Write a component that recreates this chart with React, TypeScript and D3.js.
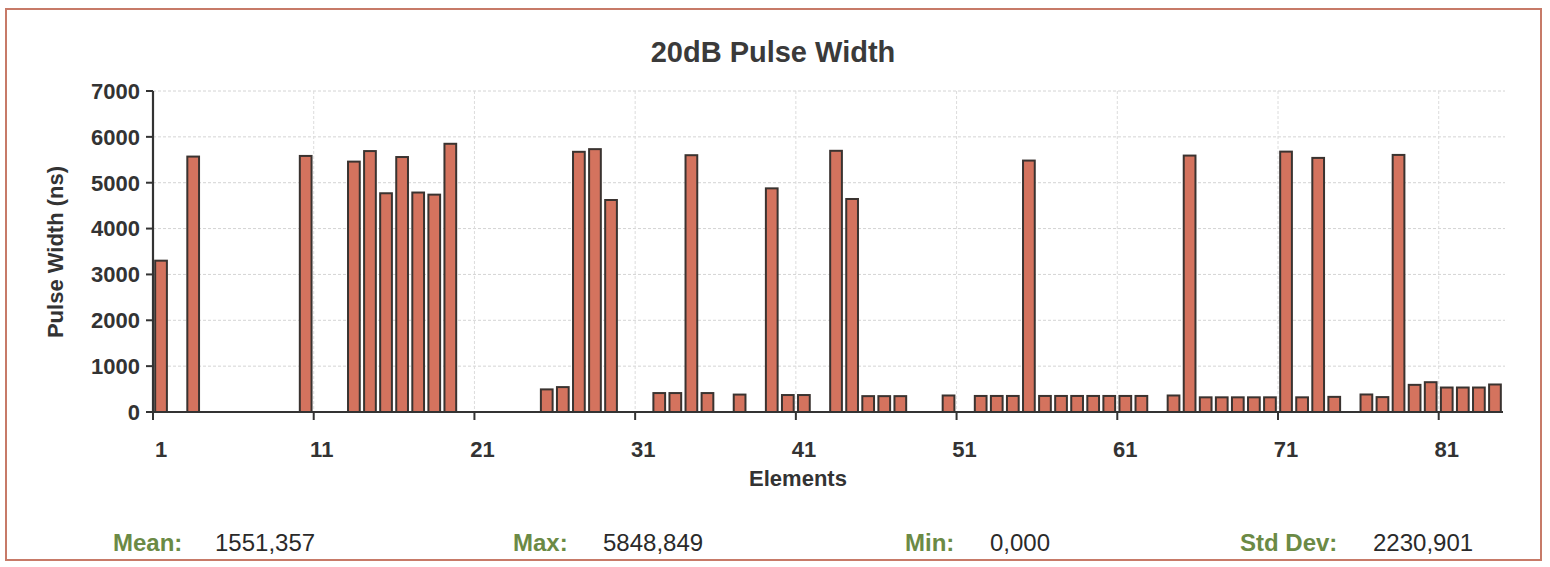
import React from "react";
import * as d3 from "d3";

// Pulse width per element (ns), element 1..84
const pulseWidths: number[] = [
  3300, 0, 5570, 0, 0, 0, 0, 0, 0, 5584,
  0, 0, 5460, 5690, 4770, 5560, 4786, 4740, 5849, 0,
  0, 0, 0, 0, 493, 543, 5674, 5732, 4623, 0,
  0, 413, 413, 5600, 413, 0, 380, 0, 4877, 370,
  370, 0, 5696, 4645, 346, 346, 346, 0, 0, 360,
  0, 350, 350, 350, 5483, 350, 350, 350, 350, 350,
  350, 350, 0, 360, 5592, 320, 320, 320, 320, 320,
  5678, 320, 5541, 330, 0, 382, 325, 5606, 592, 650,
  534, 534, 534, 600,
];
const elements: number[] = pulseWidths.map((_, i) => i + 1);
const xTickLabels: number[] = [1, 11, 21, 31, 41, 51, 61, 71, 81];
const yTicks: number[] = [0, 1000, 2000, 3000, 4000, 5000, 6000, 7000];

const statLabels: string[] = ["Mean:", "Max:", "Min:", "Std Dev:"];
const statValues: string[] = ["1551,357", "5848,849", "0,000", "2230,901"];

const W = 1550;
const H = 567;
const FONT = "'Liberation Sans', Arial, Helvetica, sans-serif";

export default function App() {
  const left = 153;
  const right = 1503;
  const top = 91;
  const bottom = 412;

  const x = d3
    .scaleBand<number>()
    .domain(elements)
    .range([left, right])
    .paddingInner(0.27)
    .paddingOuter(0.135);
  const step = x.step();
  const y = d3.scaleLinear().domain([0, 7000]).range([bottom, top]);

  const boundary = (e: number) => left + (e - 1) * step;

  const statLabelX = [113, 513, 905, 1240];
  const statValueX = [215, 603, 990, 1373];

  return (
    <svg
      width={W}
      height={H}
      style={{ position: "absolute", left: 0, top: 0, background: "#fff" }}
      fontFamily={FONT}
    >
      <rect x={0} y={0} width={W} height={H} fill="#ffffff" />
      <rect
        x={6}
        y={9}
        width={1535}
        height={551}
        fill="none"
        stroke="#c77a68"
        strokeWidth={2}
      />
      <text
        x={773}
        y={62}
        textAnchor="middle"
        fontSize={29}
        fontWeight="bold"
        fill="#3a3a3a"
      >
        20dB Pulse Width
      </text>

      {/* horizontal gridlines */}
      {yTicks.slice(1).map((t) => (
        <line
          key={"hg" + t}
          x1={left}
          x2={right + 2}
          y1={y(t)}
          y2={y(t)}
          stroke="#d4d4d4"
          strokeWidth={1}
          strokeDasharray="3,2"
        />
      ))}
      {/* vertical gridlines */}
      {xTickLabels.slice(1).map((e) => (
        <line
          key={"vg" + e}
          x1={boundary(e)}
          x2={boundary(e)}
          y1={top}
          y2={bottom}
          stroke="#dcdcdc"
          strokeWidth={1}
          strokeDasharray="3,2"
        />
      ))}

      {/* bars */}
      {pulseWidths.map((v, i) =>
        v > 0 ? (
          <rect
            key={"b" + i}
            x={x(elements[i])!}
            y={y(v)}
            width={x.bandwidth()}
            height={y(0) - y(v)}
            fill="#d4735e"
            stroke="#3a3330"
            strokeWidth={2}
          />
        ) : null
      )}

      {/* axes */}
      <line x1={left} x2={left} y1={top} y2={bottom} stroke="#333" strokeWidth={2.2} />
      <line x1={left - 7} x2={right} y1={bottom} y2={bottom} stroke="#333" strokeWidth={2.2} />
      {yTicks.map((t) => (
        <g key={"yt" + t}>
          <line x1={left - 7} x2={left} y1={y(t)} y2={y(t)} stroke="#333" strokeWidth={2} />
          <text
            x={140}
            y={y(t)}
            dy="0.36em"
            textAnchor="end"
            fontSize={22}
            fontWeight="bold"
            fill="#333"
          >
            {t}
          </text>
        </g>
      ))}
      {xTickLabels.map((e) => (
        <g key={"xt" + e}>
          <line
            x1={boundary(e)}
            x2={boundary(e)}
            y1={bottom}
            y2={bottom + 8}
            stroke="#333"
            strokeWidth={2}
          />
          <text
            x={x(e)! + x.bandwidth() / 2}
            y={457}
            textAnchor="middle"
            fontSize={22}
            fontWeight="bold"
            fill="#333"
          >
            {e}
          </text>
        </g>
      ))}

      <text
        x={798}
        y={486}
        textAnchor="middle"
        fontSize={22}
        fontWeight="bold"
        fill="#333"
      >
        Elements
      </text>
      <text
        transform={`translate(63, 252) rotate(-90)`}
        textAnchor="middle"
        fontSize={22}
        fontWeight="bold"
        fill="#333"
      >
        Pulse Width (ns)
      </text>

      {/* statistics */}
      {statLabels.map((s, i) => (
        <g key={"s" + i}>
          <text
            x={statLabelX[i]}
            y={551}
            fontSize={24}
            fontWeight="bold"
            fill="#6b8a45"
          >
            {s}
          </text>
          <text x={statValueX[i]} y={551} fontSize={24} fill="#2a2a2a">
            {statValues[i]}
          </text>
        </g>
      ))}
    </svg>
  );
}
